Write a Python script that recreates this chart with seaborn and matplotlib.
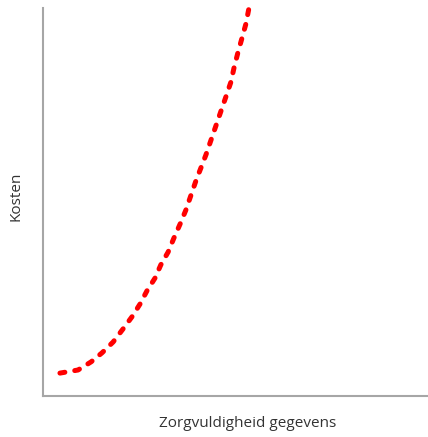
import matplotlib
matplotlib.use("Agg")
import matplotlib.pyplot as plt
import seaborn as sns
import pandas as pd

# Data (x: zorgvuldigheid, y: kosten, 0-100 scale)
zorgvuldigheid = [4.4, 9.1, 12.5, 15.3, 18.2, 20.8, 23.1, 25.2, 27.0, 29.1, 30.6,
                  32.5, 34.0, 35.6, 37.1, 39.7, 42.3, 44.9, 47.5, 48.8, 49.6,
                  50.6, 51.7, 52.7, 53.5]
kosten = [5.9, 6.7, 8.8, 11.1, 13.9, 17.3, 20.4, 23.7, 27.1, 30.4, 33.8,
          37.1, 40.7, 44.3, 47.9, 55.4, 62.1, 69.6, 77.1, 80.9, 84.5,
          88.4, 92.3, 95.9, 100.0]
x_label = "Zorgvuldigheid gegevens"
y_label = "Kosten"

df = pd.DataFrame({"x": zorgvuldigheid, "y": kosten})

sns.set_style("white")
plt.rcParams["font.family"] = ["Open Sans", "DejaVu Sans"]

fig = plt.figure(figsize=(4.28, 4.37), dpi=100)
ax = fig.add_axes([43/428, 41/437, 385/428, 388/437])

sns.lineplot(data=df, x="x", y="y", ax=ax, color="#ff0000", linewidth=3.6,
             sort=False)
line = ax.lines[0]
line.set_dashes((1.0, 2.0))
line.set_dash_capstyle("round")
line.set_clip_on(False)

ax.set_xlim(0, 100)
ax.set_ylim(0, 100)
ax.set_xticks([])
ax.set_yticks([])
for s in ["top", "right"]:
    ax.spines[s].set_visible(False)
for s in ["left", "bottom"]:
    ax.spines[s].set_color("#a6a6a6")
    ax.spines[s].set_linewidth(1.5)

ax.set_xlabel(x_label, fontsize=11, color="#333333")
ax.set_ylabel(y_label, fontsize=11, color="#333333")
ax.xaxis.label.set_va("center")
ax.yaxis.label.set_va("center")
ax.xaxis.set_label_coords(0.532, -0.072)
ax.yaxis.set_label_coords(-0.070, 0.515)

fig.savefig("out.png", dpi=100, facecolor="white")
